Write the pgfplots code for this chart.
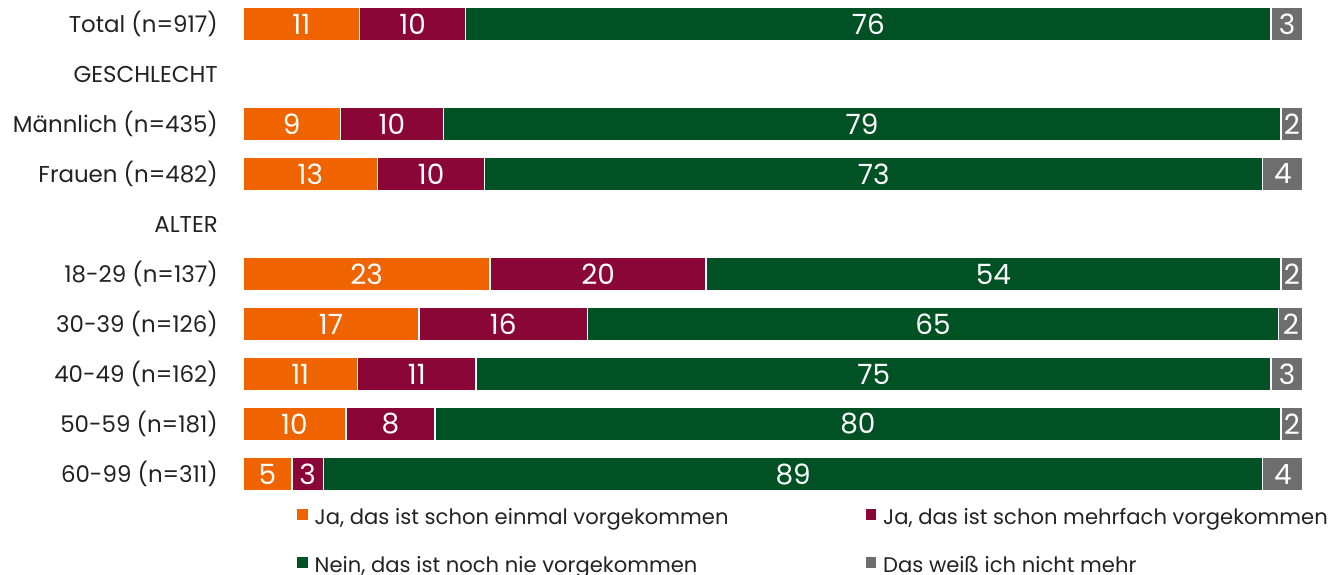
\documentclass[border=0pt]{standalone}
\usepackage{pgfplots}
\pgfplotsset{compat=1.18}
\usepackage{pgfplotstable}
\usepackage{fontspec}
\setmainfont{Poppins}
\definecolor{cOr}{HTML}{F06400}
\definecolor{cMa}{HTML}{8A0636}
\definecolor{cGr}{HTML}{005224}
\definecolor{cGy}{HTML}{6E6E6E}
\definecolor{cTx}{HTML}{222222}

\pgfplotstableread{
y a b c d
0 11 10 76 3
2 9.2 9.7 79.0 2.1
3 12.7 10.1 73.4 3.8
5 23.3 20.4 54.2 2.1
6 16.6 15.9 65.2 2.3
7 10.8 11.2 75.0 3.0
8 9.7 8.4 79.8 2.1
9 4.6 3.0 88.6 3.8
}\data

\begin{document}
\begin{tikzpicture}[x=1bp,y=1bp]
\useasboundingbox (0,0) rectangle (1331,-575);
\begin{axis}[
  at={(243bp,-499bp)}, anchor=south west,
  scale only axis, width=1060bp, height=500bp,
  xbar stacked, bar width=0.66,
  xmin=0, xmax=100, ymin=-0.5, ymax=9.5, y dir=reverse,
  axis line style={draw=none}, major tick length=0pt,
  xtick=\empty, ytick={0,...,9},
  yticklabels={Total (n=917),GESCHLECHT,Männlich (n=435),Frauen (n=482),ALTER,18-29 (n=137),30-39 (n=126),40-49 (n=162),50-59 (n=181),60-99 (n=311)},
  yticklabel style={font=\fontsize{23}{27}\selectfont, text=cTx, inner sep=0pt, anchor=east, xshift=-25bp},
  clip=false,
  point meta=explicit,
  nodes near coords={\pgfmathprintnumber[fixed, precision=0, assume math mode=true]{\pgfplotspointmeta}},
  every node near coord/.append style={font=\fontsize{28}{32}\selectfont, text=white, anchor=center},
  legend columns=2,
  legend style={draw=none, fill=none, inner sep=0pt, anchor=north west, at={(0.0509,-0.02)},
    font=\fontsize{21.2}{25}\selectfont, text=cTx, row sep=28bp, column sep=0pt,
    nodes={inner sep=0pt, text height=15bp, text depth=5bp}},
  legend cell align=left,
]
\addplot[fill=cOr, draw=white, line width=1.5bp,
  legend image code/.code={\path (0bp,0bp) rectangle (16bp,0bp); \fill[cOr] (0bp,0bp) rectangle (9bp,9bp);}]
  table[x=a, y=y, meta=a] {\data};
\addlegendentry{\makebox[551bp][l]{Ja, das ist schon einmal vorgekommen}}
\addplot[fill=cMa, draw=white, line width=1.5bp,
  legend image code/.code={\path (0bp,0bp) rectangle (16bp,0bp); \fill[cMa] (0bp,0bp) rectangle (9bp,9bp);}]
  table[x=b, y=y, meta=b] {\data};
\addlegendentry{Ja, das ist schon mehrfach vorgekommen}
\addplot[fill=cGr, draw=white, line width=1.5bp,
  legend image code/.code={\path (0bp,0bp) rectangle (16bp,0bp); \fill[cGr] (0bp,0bp) rectangle (9bp,9bp);}]
  table[x=c, y=y, meta=c] {\data};
\addlegendentry{\makebox[551bp][l]{Nein, das ist noch nie vorgekommen}}
\addplot[fill=cGy, draw=white, line width=1.5bp,
  legend image code/.code={\path (0bp,0bp) rectangle (16bp,0bp); \fill[cGy] (0bp,0bp) rectangle (9bp,9bp);}]
  table[x=d, y=y, meta=d] {\data};
\addlegendentry{Das weiß ich nicht mehr}
\end{axis}
\end{tikzpicture}
\end{document}
